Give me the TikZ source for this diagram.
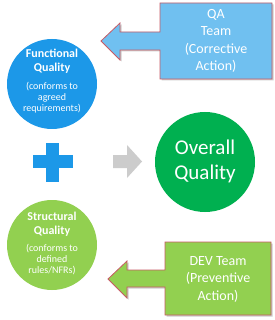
\documentclass[tikz,border=0pt]{standalone}
\usepackage{fontspec}
\setmainfont{Carlito}
\definecolor{fblue}{RGB}{28,152,232}
\definecolor{qablue}{RGB}{112,192,240}
\definecolor{ogreen}{RGB}{0,176,80}
\definecolor{lgreen}{RGB}{146,208,80}
\definecolor{garrow}{RGB}{204,204,204}
\definecolor{cborder}{RGB}{200,90,100}
\tikzset{
  bubble/.style={circle, draw=none, inner sep=0pt, minimum size=#1},
  calloutbox/.style={draw=cborder, line width=0.8pt, line join=miter},
  shadowpath/.style={fill=black, opacity=0.2, draw=none},
  wtext/.style={text=white, align=center, inner sep=0pt},
  ttl/.style={wtext, font=\bfseries\fontsize{12}{14}\selectfont},
  sub/.style={wtext, font=\fontsize{10}{11}\selectfont},
  calltext/.style={wtext, font=\fontsize{14}{17.5}\selectfont},
  bigtext/.style={wtext, font=\fontsize{21}{25}\selectfont},
}
\begin{document}
\begin{tikzpicture}[x=1pt,y=-1pt]
\useasboundingbox (0,0) rectangle (274,320);
\fill[white] (0,0) rectangle (274,320);
% QA callout
\fill[shadowpath] (273.5,4.5) -- (161.5,4.5) -- (161.5,33.5) -- (121.5,33.5) -- (121.5,24.5) -- (102.5,42.5) -- (121.5,61.5) -- (121.5,51.5) -- (161.5,51.5) -- (161.5,80.5) -- (273.5,80.5) -- cycle;
\draw[calloutbox, fill=qablue] (272,3) -- (160,3) -- (160,32) -- (120,32) -- (120,23) -- (101,41) -- (120,60) -- (120,50) -- (160,50) -- (160,79) -- (272,79) -- cycle;
\node[calltext] (qa) at (216,41) {QA\\Team\\(Corrective\\Action)};
% DEV callout
\fill[shadowpath] (272.5,243.5) -- (166.5,243.5) -- (166.5,271.5) -- (128.5,271.5) -- (128.5,262.5) -- (109.5,280.5) -- (128.5,299.5) -- (128.5,288.5) -- (166.5,288.5) -- (166.5,316.5) -- (272.5,316.5) -- cycle;
\draw[calloutbox, fill=lgreen] (271,242) -- (165,242) -- (165,270) -- (127,270) -- (127,261) -- (108,279) -- (127,298) -- (127,287) -- (165,287) -- (165,315) -- (271,315) -- cycle;
\node[calltext] (dev) at (218,279) {DEV Team\\(Preventive\\Action)};
% Functional quality
\node[bubble=90pt, fill=fblue] (fq) at (52,84) {};
\node[ttl] (fqt) at (52,61) {Functional\\Quality};
\node[sub] (fqs) at (52,97.5) {(conforms to\\agreed\\requirements)};
% Structural quality
\node[bubble=90pt, fill=lgreen] (sq) at (52,245) {};
\node[ttl] (sqt) at (52,224.5) {Structural\\Quality};
\node[sub] (sqs) at (52,260) {(conforms to\\defined\\rules/NFRs)};
% Overall quality
\node[bubble=100pt, fill=ogreen] (oq) at (205,162) {};
\node[bigtext] (oqt) at (205,161) {Overall\\Quality};
% plus sign
\fill[fblue] (46,143) rectangle (59,182);
\fill[fblue] (33,155) rectangle (73,168);
% gray arrow
\fill[garrow] (113,155) -- (127,155) -- (127,145) -- (142,161.5) -- (127,178) -- (127,168) -- (113,168) -- cycle;
\end{tikzpicture}
\end{document}
